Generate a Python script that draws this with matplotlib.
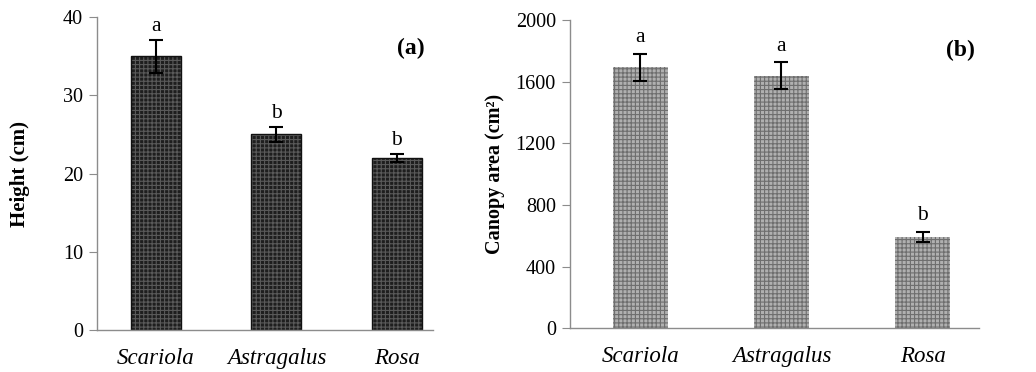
import matplotlib
matplotlib.use("Agg")
import matplotlib.pyplot as plt

plt.rcParams['font.family'] = ['Liberation Serif', 'DejaVu Serif']
plt.rcParams['hatch.linewidth'] = 0.8

species = ["Scariola", "Astragalus", "Rosa"]
height = [35, 25, 22]
height_err = [2.1, 1.0, 0.5]
height_letters = ["a", "b", "b"]
canopy = [1695, 1640, 592]
canopy_err = [88, 88, 35]
canopy_letters = ["a", "a", "b"]

fig = plt.figure(figsize=(10.36, 3.72), dpi=100)
ax1 = fig.add_axes([0.0936, 0.113, 0.3244, 0.841])
ax2 = fig.add_axes([0.550, 0.118, 0.395, 0.828])

def style(ax):
    for s in ['top', 'right']:
        ax.spines[s].set_visible(False)
    for s in ['left', 'bottom']:
        ax.spines[s].set_color('#8c8c8c')
        ax.spines[s].set_linewidth(1.0)
    ax.tick_params(axis='y', direction='out', length=6, color='#8c8c8c', labelsize=14.5, pad=4)
    ax.tick_params(axis='x', length=0, labelsize=16.5, pad=13)
    for lab in ax.get_xticklabels():
        lab.set_fontstyle('italic')

x = list(range(len(species)))

# Panel (a)
ax1.bar(x, height, width=0.415, color='#1e1e1e', edgecolor='#5a5a5a', hatch='++++', linewidth=0)
ax1.bar(x, height, width=0.415, color='none', edgecolor='#111111', linewidth=1.0)
ax1.errorbar(x, height, yerr=height_err, fmt='none', ecolor='black', elinewidth=1.5, capsize=5, capthick=1.5)
ax1.set_ylim(0, 40)
ax1.set_yticks([0, 10, 20, 30, 40])
ax1.set_xlim(-0.49, 2.30)
ax1.set_xticks(x)
ax1.set_xticklabels(species)
ax1.set_ylabel("Height (cm)", fontsize=15, fontweight='bold', labelpad=24)
for xi, v, e, l in zip(x, height, height_err, height_letters):
    ax1.text(xi, v + e + 0.5, l, ha='center', va='bottom', fontsize=15.5)
ax1.text(0.935, 0.90, "(a)", transform=ax1.transAxes, ha='center', va='center', fontsize=17, fontweight='bold')
style(ax1)

# Panel (b)
ax2.bar(x, canopy, width=0.39, color='#b0b0b0', edgecolor='#6e6e6e', hatch='++++', linewidth=0)
ax2.errorbar(x, canopy, yerr=canopy_err, fmt='none', ecolor='black', elinewidth=1.5, capsize=5, capthick=1.5)
ax2.set_ylim(0, 2000)
ax2.set_yticks([0, 400, 800, 1200, 1600, 2000])
ax2.set_xlim(-0.5, 2.40)
ax2.set_xticks(x)
ax2.set_xticklabels(species)
ax2.set_ylabel("Canopy area (cm\u00b2)", fontsize=14.5, fontweight='bold', labelpad=8)
for xi, v, e, l in zip(x, canopy, canopy_err, canopy_letters):
    ax2.text(xi, v + e + 40, l, ha='center', va='bottom', fontsize=15.5)
ax2.text(0.955, 0.90, "(b)", transform=ax2.transAxes, ha='center', va='center', fontsize=17, fontweight='bold')
style(ax2)

fig.savefig("out.png", dpi=100, facecolor='white')
